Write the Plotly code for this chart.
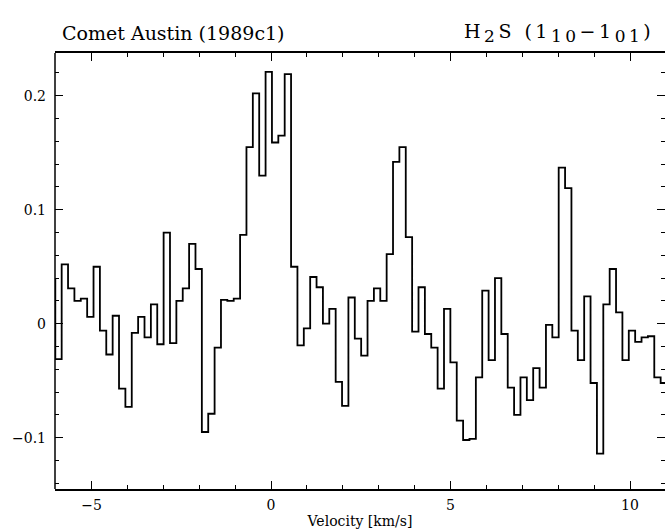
import numpy as np
import plotly.graph_objects as go

# Spectrometer channel grid (km/s)
V_FIRST = -6.0975
CHANNEL_WIDTH = 0.1775

# Antenna temperature per channel (K)
TA = [
    0.039,
    -0.031, 0.052, 0.031, 0.020, 0.022, 0.006, 0.050, -0.006, -0.027, 0.007,
    -0.057, -0.073, -0.008, 0.006, -0.012, 0.017, -0.018, 0.080, -0.017, 0.020,
    0.031, 0.070, 0.048, -0.095, -0.079, -0.021, 0.021, 0.020, 0.022, 0.078,
    0.155, 0.202, 0.130, 0.221, 0.159, 0.165, 0.219, 0.050, -0.019, -0.004,
    0.041, 0.032, 0.000, 0.013, -0.051, -0.072, 0.023, -0.013, -0.028, 0.020,
    0.031, 0.020, 0.061, 0.142, 0.155, 0.076, -0.007, 0.032, -0.009, -0.021,
    -0.057, 0.013, -0.034, -0.085, -0.102, -0.101, -0.047, 0.029, -0.032, 0.040,
    -0.009, -0.056, -0.080, -0.047, -0.067, -0.039, -0.056, -0.001, -0.012, 0.137,
    0.119, -0.006, -0.032, 0.024, -0.052, -0.114, 0.017, 0.048, 0.010, -0.032,
    -0.006, -0.016, -0.012, -0.011, -0.047, -0.052,
]

X_TICKS = [-5, 0, 5, 10]
Y_TICKS = [-0.1, 0, 0.1, 0.2]
Y_TICK_TEXT = ["\u22120.1", "0", "0.1", "0.2"]

ta = np.array(TA)
centres = V_FIRST + CHANNEL_WIDTH * np.arange(len(ta))
edges = np.append(centres - CHANNEL_WIDTH / 2, centres[-1] + CHANNEL_WIDTH / 2)
steps = np.append(ta, ta[-1])

FONT = "DejaVu Serif"

fig = go.Figure()
fig.add_trace(go.Scatter(
    x=edges, y=steps, mode="lines",
    line=dict(color="black", width=1.8, shape="hv"),
    hoverinfo="skip", showlegend=False,
))

tick_common = dict(
    ticks="inside", tickcolor="black", tickwidth=1.2,
    showgrid=False, zeroline=False,
    tickfont=dict(family=FONT, size=14, color="black"),
)

fig.update_xaxes(
    range=[-6.017, 10.975],
    showline=True, linecolor="black", linewidth=1.5, mirror="ticks",
    tickvals=X_TICKS, ticklen=8,
    minor=dict(ticks="inside", dtick=1, tick0=0, ticklen=4, tickcolor="black", tickwidth=1.2),
    title=dict(text="Velocity [km/s]", font=dict(family=FONT, size=14, color="black"), standoff=5),
    ticklabelstandoff=2,
    **tick_common,
)
# y axis: ticks on both sides, frame line only on the left (right edge sits at the page border)
fig.update_yaxes(
    range=[-0.145, 0.2375],
    showline=False, mirror="ticks",
    tickvals=Y_TICKS, ticktext=Y_TICK_TEXT, ticklen=8,
    minor=dict(ticks="inside", dtick=0.02, tick0=0, ticklen=4, tickcolor="black", tickwidth=1.2),
    ticklabelstandoff=8,
    **tick_common,
)
fig.add_shape(
    type="line", xref="paper", yref="paper", x0=0, x1=0, y0=0, y1=1,
    line=dict(color="black", width=1.5),
)

fig.add_annotation(
    text="Comet Austin (1989c1)", xref="paper", yref="paper",
    x=0.008, y=1.046, xanchor="left", yanchor="middle", showarrow=False,
    font=dict(family=FONT, size=19, color="black"),
)
SUB = '<sub><span style="font-size:17px">{}</span></sub>'
line_label = ("H" + SUB.format("2") + "S (1" + SUB.format("10")
              + "\u22121" + SUB.format("01") + ")")
fig.add_annotation(
    text='<span style="letter-spacing:3.5px">' + line_label + "</span>",
    xref="paper", yref="paper",
    x=0.985, y=1.046, xanchor="right", yanchor="middle", showarrow=False,
    font=dict(family=FONT, size=19, color="black"),
)

fig.update_layout(
    width=665, height=531,
    margin=dict(l=55, r=0, t=53, b=42),
    plot_bgcolor="white", paper_bgcolor="white",
)

fig.write_html("out.html")
